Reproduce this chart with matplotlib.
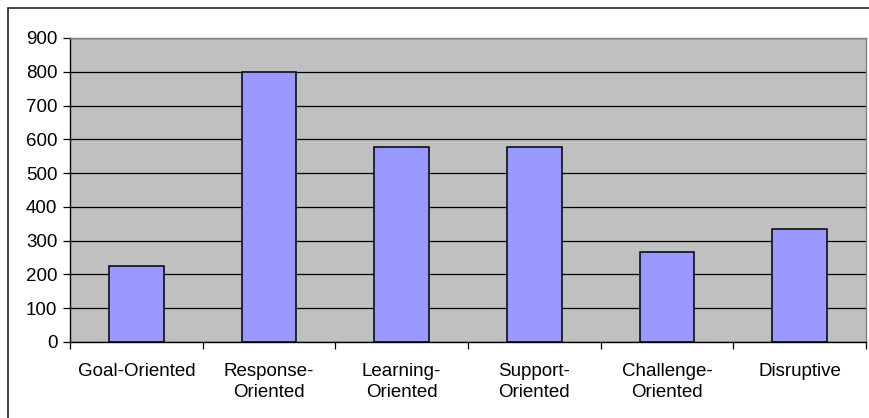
import matplotlib
matplotlib.use("Agg")
import matplotlib.pyplot as plt
from matplotlib.patches import Rectangle

categories = ["Goal-Oriented", "Response-\nOriented", "Learning-\nOriented",
              "Support-\nOriented", "Challenge-\nOriented", "Disruptive"]
values = [225, 800, 578, 578, 267, 335]
yticks = [0, 100, 200, 300, 400, 500, 600, 700, 800, 900]

plt.rcParams['font.family'] = ['Liberation Sans', 'DejaVu Sans']

W, H = 870, 418
fig = plt.figure(figsize=(W / 100, H / 100), dpi=100)
fig.patch.set_facecolor("white")

# outer chart border (cropped at right/bottom)
fig.patches.append(Rectangle((8 / W, -0.05), 1.1, (H - 8) / H + 0.05, transform=fig.transFigure,
                             fill=False, edgecolor="#222222", linewidth=1.2))

ax = fig.add_axes([70 / W, (H - 342) / H, (866 - 70) / W, (342 - 38) / H])
ax.set_facecolor("#C0C0C0")

x = list(range(len(categories)))
ax.bar(x, values, width=0.41, color="#9999FF", edgecolor="black", linewidth=1.1, zorder=3)

ax.set_xlim(-0.5, len(categories) - 0.5)
ax.set_ylim(0, 900)
ax.set_yticks(yticks)
ax.set_yticklabels([str(v) for v in yticks], fontsize=13.5)
ax.yaxis.grid(True, color="black", linewidth=0.9, zorder=1)
ax.set_axisbelow(True)

ax.set_xticks(x)
ax.set_xticklabels(categories, fontsize=13.5, linespacing=1.3)
ax.tick_params(axis="x", length=0, pad=15)
ax.set_xticks([i - 0.5 for i in range(len(categories) + 1)], minor=True)
ax.tick_params(axis="x", which="minor", length=5, direction="out", width=0.9)
ax.tick_params(axis="y", length=5, direction="out", width=0.9, pad=4)

for s in ["top", "right"]:
    ax.spines[s].set_color("#808080")
    ax.spines[s].set_linewidth(1.0)
for s in ["left", "bottom"]:
    ax.spines[s].set_color("black")
    ax.spines[s].set_linewidth(1.0)
ax.spines["bottom"].set_zorder(4)

fig.savefig("out.png", dpi=100)
